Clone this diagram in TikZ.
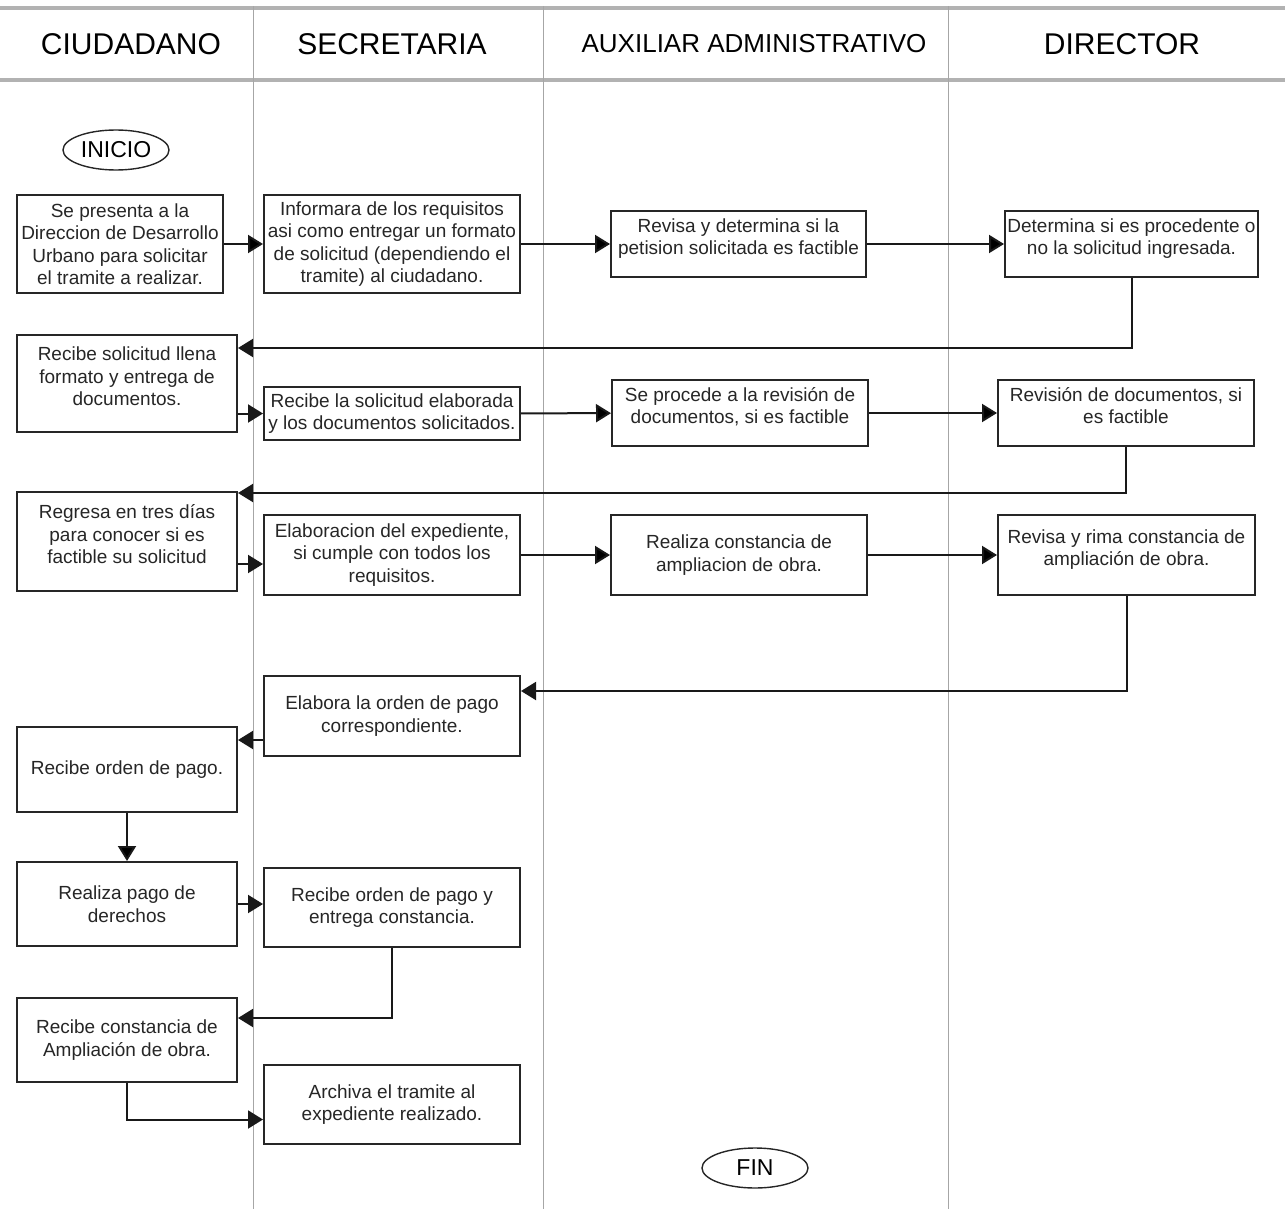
\documentclass[tikz,border=0pt]{standalone}
\usepackage{fontspec}
\setmainfont{Liberation Sans}
\usetikzlibrary{arrows.meta, shapes.geometric}

\newcommand{\subir}{\\[-8pt]\mbox{}}

\begin{document}
\begin{tikzpicture}[x = 1pt, y = -1pt, % one pixel of the sheet
                > = {Triangle[length=15pt, width=18pt]}, % arrow head style
                line width = 2pt % line style
            ]

            \tikzstyle{paso}=[draw = black!85, align = center, inner sep = 0pt,
            text = black!85, font = \fontsize{19}{22.5}\selectfont]
            \tikzstyle{limite}=[draw = black!85, ellipse, line width = 1.4pt,
            minimum width = 106pt, minimum height = 40pt, inner sep = 0pt,
            font = \fontsize{23}{26}\selectfont]
            \tikzstyle{cabecera}=[font = \fontsize{30}{34}\selectfont]
            \tikzstyle{carril}=[draw = black!35, line width = 1pt]
            \tikzstyle{borde}=[draw = black!30, line width = 3.5pt]
            \tikzstyle{flecha}=[draw = black!90, ->]

            \useasboundingbox (0,0) rectangle (1285,1209);

            % lanes
            \draw[borde] (0,8) -- (1285,8); \draw[borde] (0,80) -- (1285,80);
            \foreach \x in {253, 543, 948} \draw[carril] (\x,6) -- (\x,1209);

            \node[cabecera] (h1) at (131,44) {CIUDADANO};
            \node[cabecera] (h2) at (392,44) {SECRETARIA};
            \node[cabecera, font = \fontsize{26}{30}\selectfont] (h3) at
            (754,44) {AUXILIAR ADMINISTRATIVO};
            \node[cabecera] (h4) at (1122,44) {DIRECTOR};

            % steps
            \node[limite] (inicio) at (116,150) {INICIO};

            \node[paso, minimum width = 206pt, minimum height = 98pt] (b1) at
            (120,244) {Se presenta a la\\Direccion de Desarrollo\\Urbano para
            solicitar\\el tramite a realizar.};
            \node[paso, minimum width = 256pt, minimum height = 98pt] (b2) at
            (392,244) {Informara de los requisitos\\asi como entregar un
            formato\\de solicitud (dependiendo el\\tramite) al ciudadano.};
            \node[paso, minimum width = 255pt, minimum height = 66pt] (b3) at
            (738.5,244) {Revisa y determina si la\\petision solicitada es
            factible\subir};
            \node[paso, minimum width = 253pt, minimum height = 66pt] (b4) at
            (1131.5,244) {Determina si es procedente o\\no la solicitud
            ingresada.\subir};

            \node[paso, minimum width = 220pt, minimum height = 97pt] (b5) at
            (127,383.5) {Recibe solicitud llena\\formato y entrega
            de\\documentos.\subir};
            \node[paso, minimum width = 256pt, minimum height = 53pt] (b6) at
            (392,413.5) {Recibe la solicitud elaborada\\y los documentos
            solicitados.};
            \node[paso, minimum width = 256pt, minimum height = 66pt] (b7) at
            (740,413) {Se procede a la revisión de\\documentos, si es
            factible\subir};
            \node[paso, minimum width = 256pt, minimum height = 66pt] (b8) at
            (1126,413) {Revisión de documentos, si\\es factible\subir};

            \node[paso, minimum width = 220pt, minimum height = 99pt] (b9) at
            (127,541.5) {Regresa en tres días\\para conocer si es\\factible su
            solicitud\subir};
            \node[paso, minimum width = 256pt, minimum height = 80pt] (b10) at
            (392,555) {Elaboracion del expediente,\\si cumple con todos
            los\\requisitos.};
            \node[paso, minimum width = 256pt, minimum height = 80pt] (b11) at
            (739,555) {Realiza constancia de\\ampliacion de obra.};
            \node[paso, minimum width = 257pt, minimum height = 80pt] (b12) at
            (1126.5,555) {Revisa y rima constancia de\\ampliación de
            obra.\subir};

            \node[paso, minimum width = 256pt, minimum height = 80pt] (b13) at
            (392,716) {Elabora la orden de pago\\correspondiente.};
            \node[paso, minimum width = 220pt, minimum height = 85pt] (b14) at
            (127,769.5) {Recibe orden de pago.};
            \node[paso, minimum width = 220pt, minimum height = 84pt] (b15) at
            (127,904) {Realiza pago de\\derechos};
            \node[paso, minimum width = 256pt, minimum height = 79pt] (b16) at
            (392,907.5) {Recibe orden de pago y\\entrega constancia.};
            \node[paso, minimum width = 220pt, minimum height = 84pt] (b17) at
            (127,1040) {Recibe constancia de\\Ampliación de obra.};
            \node[paso, minimum width = 256pt, minimum height = 79pt] (b18) at
            (392,1104.5) {Archiva el tramite al\\expediente realizado.};

            \node[limite] (fin) at (755,1168) {FIN};

            % flow
            \path[flecha] (b1) edge (b2); \path[flecha] (b2) edge (b3);
            \path[flecha] (b3) edge (b4);
            \draw[flecha] (b4.south) |- ([yshift=-14pt]b5.north east);
            \draw[flecha] (b6.west -| b5.east) -- (b6.west);
            \path[flecha] (b6) edge (b7); \path[flecha] (b7) edge (b8);
            \draw[flecha] (b8.south) |- ([yshift=-2pt]b9.north east);
            \draw[flecha] ([yshift=-9pt]b10.west -| b9.east) --
            ([yshift=-9pt]b10.west);
            \path[flecha] (b10) edge (b11); \path[flecha] (b11) edge (b12);
            \draw[flecha] (b12.south) |- ([yshift=-16pt]b13.north east);
            \draw[flecha] ([yshift=-24pt]b13.west) -- ([yshift=-24pt]b13.west
            -| b14.east);
            \path[flecha] (b14) edge (b15);
            \draw[flecha] (b15.east) -- (b15.east -| b16.west);
            \draw[flecha] (b16.south) |- ([yshift=-21pt]b17.north east);
            \draw[flecha] (b17.south) |- ([yshift=-15pt]b18.west);
\end{tikzpicture}
\end{document}
